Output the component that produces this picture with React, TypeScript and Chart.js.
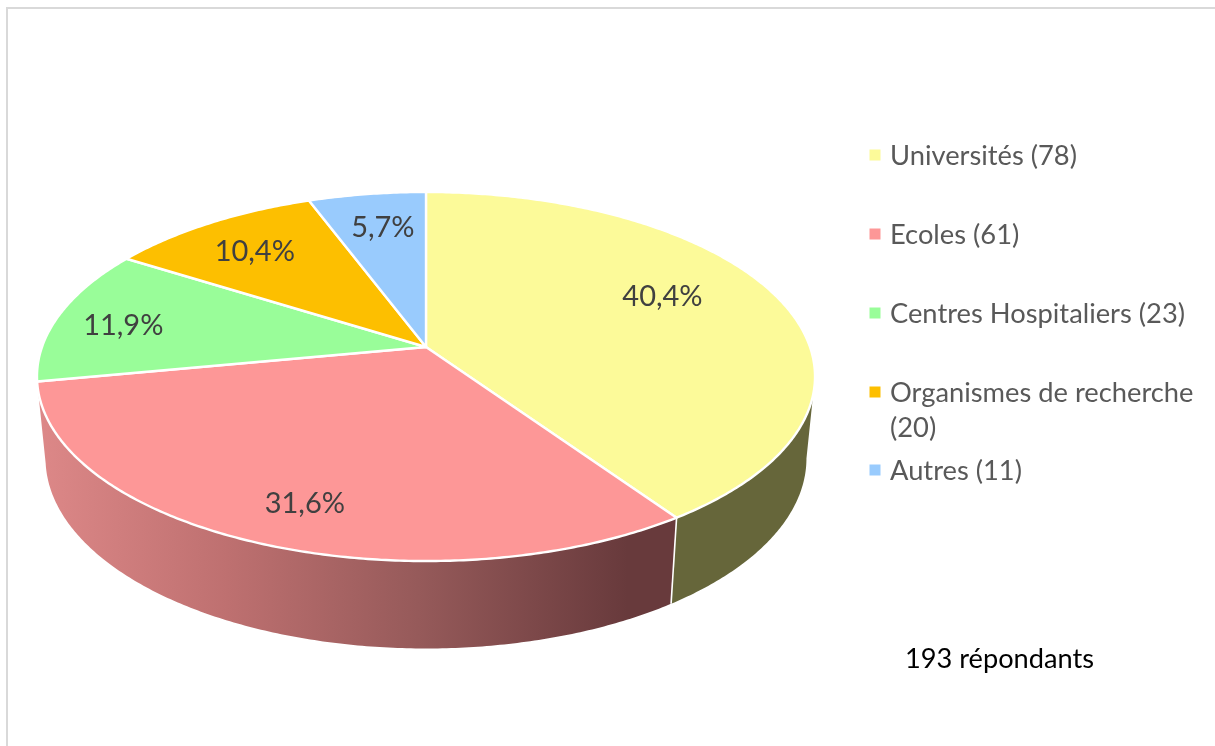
import React, { useEffect, useRef } from "react";
import { Chart, registerables } from "chart.js";

Chart.register(...registerables);

const categories = ["Universités", "Ecoles", "Centres Hospitaliers", "Organismes de recherche", "Autres"];
const respondents = [78, 61, 23, 20, 11];
const sliceColors = ["#FCFA99", "#FD9797", "#99FD99", "#FDBF00", "#99CBFD"];
const noteText = "193 répondants";

const CX = 426, CY = 347;
const K = 384, A = 179.8, C = -0.16;
const LOWER_SCALE_X = 0.978, LOWER_SCALE_Y = 1.03, DEPTH = 81;
const FONT = "Lato, 'Open Sans', sans-serif";

// perspective of the unit circle onto the page
function project(angle: number, r = 1, lower = false) {
  const u = Math.cos(angle) * r;
  const v = Math.sin(angle) * r;
  const w = 1 + C * v;
  const x = (u * K) / w;
  const y = (A * v) / w;
  return lower
    ? { x: CX + x * LOWER_SCALE_X, y: CY + y * LOWER_SCALE_Y + DEPTH }
    : { x: CX + x, y: CY + y };
}

const FRONT_START = 9.2 * (Math.PI / 180);
const FRONT_END = 170.8 * (Math.PI / 180);
const STEP = 0.01;
const labelNudges = [[-12, -14], [-7, 27], [-44, 2], [-15, -6], [0, -8]];
const legendRows = [156, 235, 314, 393, 471];

const pie3d = {
  id: "pie3d",
  beforeDatasetsDraw(chart: any) {
    const ctx = chart.ctx as CanvasRenderingContext2D;
    const arcs = chart.getDatasetMeta(0).data as any[];
    const values = chart.data.datasets[0].data as number[];
    const colors = chart.data.datasets[0].backgroundColor as string[];
    const total = values.reduce((a, b) => a + b, 0);

    // frame
    ctx.save();
    ctx.fillStyle = "#ffffff";
    ctx.fillRect(0, 0, chart.width, chart.height);
    ctx.strokeStyle = "#D9D9D9";
    ctx.lineWidth = 2;
    ctx.beginPath();
    ctx.moveTo(7, 746);
    ctx.lineTo(7, 8);
    ctx.lineTo(1215, 8);
    ctx.stroke();

    // side walls
    const grad = ctx.createLinearGradient(37, 0, 672, 0);
    grad.addColorStop(0, "#DD8888");
    grad.addColorStop(0.3, "#BE7070");
    grad.addColorStop(0.6, "#965A5A");
    grad.addColorStop(0.93, "#683A3C");
    grad.addColorStop(1, "#683A3C");
    const sideFills: (string | CanvasGradient)[] = ["#66663A", grad, "#66663A", "#66663A", "#66663A"];
    arcs.forEach((arc, i) => {
      const a0 = Math.max(arc.startAngle, FRONT_START);
      const a1 = Math.min(arc.endAngle, FRONT_END);
      if (a1 - a0 < 0.5) return;
      ctx.beginPath();
      for (let a = a0; a < a1; a += STEP) {
        const p = project(a);
        ctx.lineTo(p.x, p.y);
      }
      let p = project(a1);
      ctx.lineTo(p.x, p.y);
      for (let a = a1; a > a0; a -= STEP) {
        p = project(a, 1, true);
        ctx.lineTo(p.x, p.y);
      }
      p = project(a0, 1, true);
      ctx.lineTo(p.x, p.y);
      ctx.closePath();
      ctx.fillStyle = sideFills[i];
      ctx.fill();
    });
    // seam between side walls
    arcs.forEach((arc) => {
      const e = arc.endAngle;
      if (e > FRONT_START && e < FRONT_END - 0.5) {
        const p = project(e);
        const q = project(e, 1, true);
        ctx.beginPath();
        ctx.moveTo(p.x, p.y);
        ctx.lineTo(q.x, q.y);
        ctx.strokeStyle = "#ffffff";
        ctx.lineWidth = 1.6;
        ctx.stroke();
      }
    });

    // top faces
    arcs.forEach((arc, i) => {
      ctx.beginPath();
      ctx.moveTo(CX, CY);
      for (let a = arc.startAngle; a < arc.endAngle; a += STEP) {
        const p = project(a);
        ctx.lineTo(p.x, p.y);
      }
      const p = project(arc.endAngle);
      ctx.lineTo(p.x, p.y);
      ctx.closePath();
      ctx.fillStyle = colors[i];
      ctx.fill();
      ctx.strokeStyle = "#ffffff";
      ctx.lineWidth = 2.4;
      ctx.lineJoin = "round";
      ctx.stroke();
    });

    // value labels
    ctx.font = `29px ${FONT}`;
    ctx.fillStyle = "#404040";
    ctx.textAlign = "center";
    ctx.textBaseline = "middle";
    arcs.forEach((arc, i) => {
      const mid = (arc.startAngle + arc.endAngle) / 2;
      const p = project(mid, 0.7);
      const text = ((values[i] / total) * 100).toFixed(1).replace(".", ",") + "%";
      ctx.fillText(text, p.x + labelNudges[i][0], p.y + labelNudges[i][1]);
    });

    // legend
    ctx.textAlign = "left";
    arcs.forEach((_, i) => {
      const y = legendRows[i];
      ctx.fillStyle = colors[i];
      ctx.fillRect(869.5, y - 6.5, 11, 11);
      ctx.fillStyle = "#595959";
      ctx.font = `27.3px ${FONT}`;
      const count = `(${values[i]})`;
      const name = chart.data.labels[i];
      if (ctx.measureText(`${name} ${count}`).width > 315) {
        ctx.fillText(name, 890, y);
        ctx.fillText(count, 890, y + 35);
      } else {
        ctx.fillText(`${name} ${count}`, 890, y);
      }
    });

    ctx.fillStyle = "#000000";
    ctx.font = `27.2px ${FONT}`;
    ctx.fillText(noteText, 905, 659);
    ctx.restore();
    return false;
  },
};

export default function App() {
  const ref = useRef<HTMLCanvasElement>(null);
  useEffect(() => {
    document.body.style.margin = "0";
    const chart = new Chart(ref.current!, {
      type: "pie",
      data: {
        labels: categories,
        datasets: [{ data: respondents, backgroundColor: sliceColors }],
      },
      options: {
        animation: false,
        responsive: false,
        plugins: { legend: { display: false }, tooltip: { enabled: false } },
      },
      plugins: [pie3d],
    } as any);
    return () => chart.destroy();
  }, []);
  return <canvas ref={ref} width={1215} height={746} style={{ display: "block" }} />;
}
